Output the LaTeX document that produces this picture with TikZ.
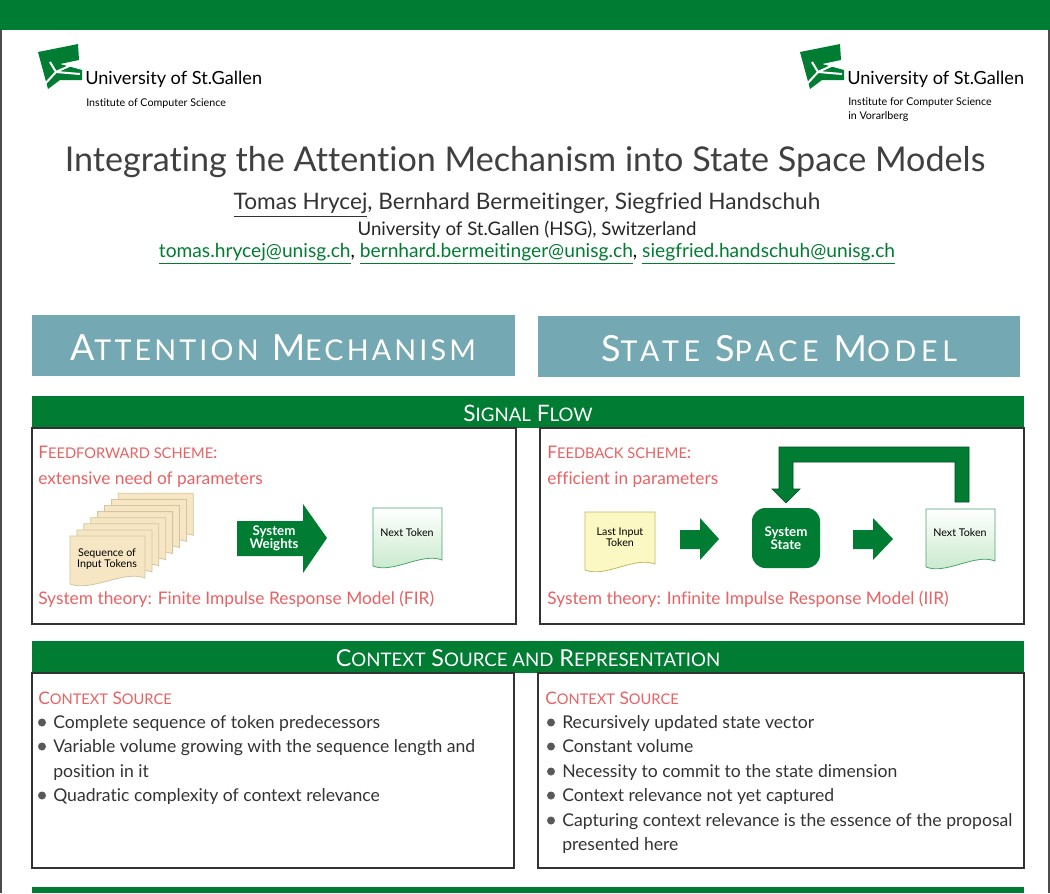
\documentclass[tikz,border=0pt]{standalone}
\usepackage{fontspec}
\setmainfont[Ligatures=NoCommon]{Lato}
\usetikzlibrary{shapes.misc}
\definecolor{hsg}{RGB}{0,125,50}
\definecolor{redt}{RGB}{232,98,100}
\definecolor{teal}{RGB}{116,168,178}
\definecolor{beige}{RGB}{246,230,196}
\definecolor{beiged}{RGB}{214,196,156}
\definecolor{yel}{RGB}{252,248,196}
\definecolor{yeld}{RGB}{190,186,100}
\definecolor{lgreen}{RGB}{196,232,200}
\newcommand\fs[1]{\fontsize{#1}{#1}\selectfont}
\newcommand\doc[6]{% x y w h fill draw
  \fill[#5] (#1,#2) -- ++(#3,0) -- ++(0,#4-6) .. controls +(-#3*0.3,-8) and +(#3*0.3,8) .. (#1,#2+#4) -- cycle;
  \draw[#6,line width=0.6pt] (#1,#2) -- ++(#3,0) -- ++(0,#4-6) .. controls +(-#3*0.3,-8) and +(#3*0.3,8) .. (#1,#2+#4) -- cycle;}
\tikzset{
 panel/.style={draw=black!80,line width=0.8pt},
 red/.style={text=redt,anchor=base west,inner sep=0},
 bul/.style={anchor=base west,inner sep=0,text=black!80,font=\fs{13.2}},
 gtext/.style={text=white,font=\bfseries\fs{10},align=center,inner sep=0},
 dtext/.style={text=black,font=\fs{8},align=center,inner sep=0},
}
\newcommand\bull[3]{\fill[black!65] (#1-6,#2-5.5) circle (4); \node[bul] (#3) at (#1+5,#2)}
\begin{document}
\begin{tikzpicture}[x=0.75pt,y=-0.75pt]
\useasboundingbox (0,0) rectangle (1050,893);
\fill[white] (0,0) rectangle (1050,893);
\draw[black!70,line width=1pt] (1,0) -- (1,893) (1049,0) -- (1049,893);
\fill[hsg] (0,0) rectangle (1050,30);
% logos
\foreach \ox/\nm in {38/l,800/r}{
 \fill[hsg] (\ox,52) -- (\ox+40,44) -- (\ox+41,60) -- (\ox+22,64) -- (\ox+44,70) -- (\ox+44,80) -- (\ox+22,80) -- (\ox+10,89) -- cycle;
 \draw[white,line width=1.5pt] (\ox+6,85) -- (\ox+18,72) -- (\ox+40,62) (\ox+18,72) -- (\ox+42,74) (\ox+18,72) -- (\ox+12,62);
}
\node[anchor=base west,inner sep=0,font=\fs{13.6}] (u1) at (85,84) {University of St.Gallen};
\node[anchor=base west,inner sep=0,font=\fs{8}] (i1) at (86,106) {Institute of Computer Science};
\node[anchor=base west,inner sep=0,font=\fs{13.6}] (u2) at (847,84) {University of St.Gallen};
\node[anchor=base west,inner sep=0,font=\fs{8},align=left] (i2) at (848,105) {Institute for Computer Science};
\node[anchor=base west,inner sep=0,font=\fs{8}] (i3) at (848,119) {in Vorarlberg};
% title
\node[inner sep=0,text=black!75,font=\fs{25.6}] (title) at (525,162) {Integrating the Attention Mechanism into State Space Models};
\node[inner sep=0,text=black!80,font=\fs{17}] (auth) at (527,205) {\underline{Tomas Hrycej}, Bernhard Bermeitinger, Siegfried Handschuh};
\node[inner sep=0,text=black!85,font=\fs{14}] (aff) at (527,230) {University of St.Gallen (HSG), Switzerland};
\node[inner sep=0,text=hsg,font=\fs{14.4}] (mail) at (527,254) {\underline{tomas.hrycej@unisg.ch}{\color{black}, }\underline{bernhard.bermeitinger@unisg.ch}{\color{black}, }\underline{siegfried.handschuh@unisg.ch}};
% big headers
\fill[teal] (32,315) rectangle (515,376);
\fill[teal] (538,316) rectangle (1020,377);
\node[text=white,inner sep=0,font=\fs{27}\addfontfeatures{LetterSpace=11}] (h1) at (273,348) {A{\fs{21.5}TTENTION} M{\fs{21.5}ECHANISM}};
\node[text=white,inner sep=0,font=\fs{27}\addfontfeatures{LetterSpace=16}] (h2) at (779,349) {S{\fs{21.5}TATE} S{\fs{21.5}PACE} M{\fs{21.5}ODEL}};
% signal flow
\fill[hsg] (32,396) rectangle (1024,428);
\node[text=white,inner sep=0,font=\fs{17}] (sf) at (528,413) {S{\fs{14}IGNAL} F{\fs{14}LOW}};
\draw[panel] (32,428) rectangle (516,624);
\draw[panel] (540,428) rectangle (1024,624);
\node[red,font=\fs{13}] (ff) at (38,458) {F{\fs{11}EEDFORWARD SCHEME}:};
\node[red,font=\fs{13}] (ff2) at (38,484) {extensive need of parameters};
\node[red,font=\fs{13}] (fir) at (38,604) {System theory: Finite Impulse Response Model (FIR)};
\foreach \k in {7,6,...,0}{\doc{70+6.9*\k}{536-6.1*\k}{75}{48}{beige}{beiged}}
\node[dtext] (seq) at (107,559) {Sequence of\\Input Tokens};
\fill[hsg] (237,521) -- (303,521) -- (303,504) -- (327,538) -- (303,573) -- (303,556) -- (237,556) -- cycle;
\node[gtext] (sw) at (274,538) {System\\Weights};
\shade[top color=white,bottom color=lgreen] (373,508) -- ++(69,0) -- ++(0,52) .. controls +(-20,-8) and +(20,8) .. (373,566) -- cycle;
\draw[hsg!70,line width=0.6pt] (373,508) -- ++(69,0) -- ++(0,52) .. controls +(-20,-8) and +(20,8) .. (373,566) -- cycle;
\node[dtext] (nt1) at (407,533) {Next Token};
% right flow
\node[red,font=\fs{13}] (fb) at (547,458) {F{\fs{11}EEDBACK SCHEME}:};
\node[red,font=\fs{13}] (fb2) at (547,484) {efficient in parameters};
\node[red,font=\fs{13}] (iir) at (547,604) {System theory: Infinite Impulse Response Model (IIR)};
\doc{585}{512}{70}{58}{yel}{yeld}
\node[dtext] (lit) at (620,537) {Last Input\\Token};
\fill[hsg] (680,530) -- (700,530) -- (700,518) -- (719,539) -- (700,560) -- (700,549) -- (680,549) -- cycle;
\node[rounded corners=10pt,fill=hsg,minimum width=68pt*0.75,minimum height=60pt*0.75,gtext] (ss) at (786,538) {System\\State};
\fill[hsg] (853,530) -- (873,530) -- (873,518) -- (893,539) -- (873,560) -- (873,549) -- (853,549) -- cycle;
\shade[top color=white,bottom color=lgreen] (926,509) -- ++(69,0) -- ++(0,52) .. controls +(-20,-8) and +(20,8) .. (926,567) -- cycle;
\draw[hsg!70,line width=0.6pt] (926,509) -- ++(69,0) -- ++(0,52) .. controls +(-20,-8) and +(20,8) .. (926,567) -- cycle;
\node[dtext] (nt2) at (960,533) {Next Token};
\fill[hsg,draw=hsg!60!black,line width=0.5pt] (955,502) -- (955,462) -- (793,462) -- (793,489) -- (800,489) -- (786,503) -- (772,489) -- (779,489) -- (779,447) -- (969,447) -- (969,502) -- cycle;
% context
\fill[hsg] (32,641) rectangle (1024,673);
\node[text=white,inner sep=0,font=\fs{17.5}] (cs) at (528,658) {C{\fs{14}ONTEXT} S{\fs{14}OURCE AND} R{\fs{14}EPRESENTATION}};
\draw[panel] (32,673) rectangle (514,868);
\draw[panel] (538,673) rectangle (1024,868);
\node[red,font=\fs{13}] (c1) at (38,704) {C{\fs{11}ONTEXT} S{\fs{11}OURCE}};
\bull{48}{728}{a1} {Complete sequence of token predecessors};
\bull{48}{752}{a2} {Variable volume growing with the sequence length and};
\node[bul] (a2b) at (53,777) {position in it};
\bull{48}{801}{a3} {Quadratic complexity of context relevance};
\node[red,font=\fs{13}] (c2) at (545,704) {C{\fs{11}ONTEXT} S{\fs{11}OURCE}};
\bull{557}{728}{b1} {Recursively updated state vector};
\bull{557}{752}{b2} {Constant volume};
\bull{557}{777}{b3} {Necessity to commit to the state dimension};
\bull{557}{801}{b4} {Context relevance not yet captured};
\bull{557}{826}{b5} {Capturing context relevance is the essence of the proposal};
\node[bul] (b5b) at (562,850) {presented here};
\fill[hsg] (32,887) rectangle (1024,893);
\end{tikzpicture}
\end{document}
